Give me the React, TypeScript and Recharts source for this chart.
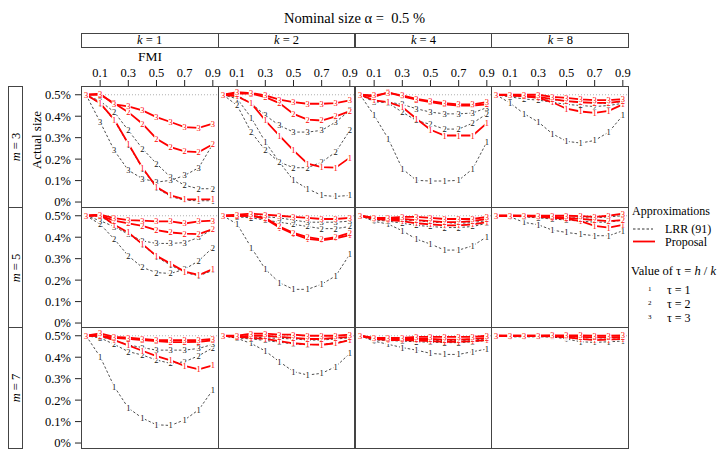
import React from 'react';
import { LineChart, Line, XAxis, YAxis, ReferenceLine } from 'recharts';

const FONT = '"Liberation Serif", Tinos, "Times New Roman", serif';

const fmi = [0, 0.1, 0.2, 0.3, 0.4, 0.5, 0.6, 0.7, 0.8, 0.9];
const kValues = [1, 2, 4, 8];
const mValues = [3, 5, 7];
const taus = [1, 2, 3];
const xTicks = [0.1, 0.3, 0.5, 0.7, 0.9];
const yTicks = [0, 0.1, 0.2, 0.3, 0.4, 0.5];

// Actual size (%) by FMI, rows = tau 1, 2, 3
const lrr_m3_k1 = [
  [0.5, 0.458, 0.38, 0.268, 0.156, 0.066, 0.026, 0.008, 0.006, 0.006],
  [0.5, 0.47, 0.42, 0.334, 0.249, 0.179, 0.116, 0.078, 0.062, 0.062],
  [0.5, 0.373, 0.241, 0.148, 0.109, 0.093, 0.101, 0.124, 0.16, 0.27],
];
const prop_m3_k1 = [
  [0.5, 0.461, 0.384, 0.272, 0.16, 0.07, 0.031, 0.012, 0.012, 0.012],
  [0.5, 0.5, 0.46, 0.419, 0.365, 0.295, 0.256, 0.236, 0.233, 0.269],
  [0.5, 0.505, 0.455, 0.446, 0.427, 0.396, 0.373, 0.349, 0.346, 0.365],
];
const lrr_m3_k2 = [
  [0.5, 0.481, 0.393, 0.28, 0.186, 0.101, 0.062, 0.031, 0.026, 0.031],
  [0.5, 0.45, 0.326, 0.241, 0.186, 0.16, 0.16, 0.186, 0.233, 0.334],
  [0.5, 0.497, 0.46, 0.404, 0.357, 0.326, 0.326, 0.334, 0.373, 0.427],
];
const prop_m3_k2 = [
  [0.5, 0.492, 0.461, 0.38, 0.31, 0.241, 0.179, 0.163, 0.16, 0.207],
  [0.5, 0.505, 0.505, 0.489, 0.461, 0.411, 0.384, 0.38, 0.399, 0.424],
  [0.5, 0.512, 0.508, 0.497, 0.477, 0.466, 0.458, 0.458, 0.461, 0.474],
];
const lrr_m3_k4 = [
  [0.5, 0.404, 0.295, 0.155, 0.101, 0.098, 0.098, 0.101, 0.155, 0.28],
  [0.5, 0.474, 0.461, 0.419, 0.38, 0.362, 0.34, 0.34, 0.368, 0.411],
  [0.5, 0.466, 0.466, 0.455, 0.435, 0.419, 0.411, 0.411, 0.415, 0.44],
];
const prop_m3_k4 = [
  [0.5, 0.474, 0.466, 0.443, 0.388, 0.337, 0.31, 0.31, 0.31, 0.368],
  [0.5, 0.49, 0.512, 0.492, 0.477, 0.466, 0.455, 0.45, 0.45, 0.455],
  [0.5, 0.497, 0.508, 0.497, 0.481, 0.47, 0.461, 0.455, 0.455, 0.466],
];
const lrr_m3_k8 = [
  [0.5, 0.461, 0.411, 0.373, 0.318, 0.283, 0.275, 0.287, 0.326, 0.404],
  [0.5, 0.49, 0.48, 0.475, 0.465, 0.455, 0.45, 0.445, 0.45, 0.46],
  [0.5, 0.495, 0.49, 0.485, 0.478, 0.47, 0.465, 0.462, 0.46, 0.47],
];
const prop_m3_k8 = [
  [0.5, 0.497, 0.492, 0.485, 0.465, 0.435, 0.422, 0.416, 0.425, 0.455],
  [0.5, 0.497, 0.495, 0.49, 0.48, 0.47, 0.465, 0.462, 0.462, 0.47],
  [0.5, 0.5, 0.5, 0.5, 0.49, 0.485, 0.478, 0.475, 0.475, 0.48],
];
const lrr_m5_k1 = [
  [0.5, 0.498, 0.458, 0.418, 0.366, 0.308, 0.27, 0.236, 0.22, 0.245],
  [0.5, 0.461, 0.391, 0.313, 0.259, 0.235, 0.231, 0.251, 0.29, 0.352],
  [0.5, 0.477, 0.449, 0.414, 0.383, 0.371, 0.371, 0.375, 0.399, 0.438],
];
const prop_m5_k1 = [
  [0.5, 0.505, 0.458, 0.422, 0.368, 0.313, 0.277, 0.24, 0.224, 0.251],
  [0.5, 0.5, 0.477, 0.464, 0.453, 0.433, 0.422, 0.417, 0.414, 0.438],
  [0.5, 0.505, 0.489, 0.48, 0.477, 0.474, 0.474, 0.464, 0.474, 0.477],
];
const lrr_m5_k2 = [
  [0.5, 0.461, 0.352, 0.251, 0.188, 0.157, 0.157, 0.181, 0.22, 0.321],
  [0.5, 0.495, 0.49, 0.48, 0.47, 0.46, 0.45, 0.44, 0.44, 0.45],
  [0.5, 0.5, 0.5, 0.495, 0.49, 0.48, 0.47, 0.47, 0.47, 0.475],
];
const prop_m5_k2 = [
  [0.5, 0.5, 0.5, 0.485, 0.445, 0.415, 0.392, 0.385, 0.395, 0.41],
  [0.5, 0.5, 0.5, 0.49, 0.45, 0.42, 0.4, 0.39, 0.4, 0.42],
  [0.5, 0.505, 0.51, 0.505, 0.5, 0.495, 0.49, 0.485, 0.485, 0.49],
];
const lrr_m5_k4 = [
  [0.5, 0.474, 0.461, 0.43, 0.391, 0.368, 0.34, 0.34, 0.36, 0.402],
  [0.5, 0.48, 0.475, 0.465, 0.455, 0.45, 0.445, 0.445, 0.45, 0.465],
  [0.5, 0.485, 0.485, 0.48, 0.478, 0.47, 0.468, 0.465, 0.468, 0.478],
];
const prop_m5_k4 = [
  [0.5, 0.485, 0.48, 0.475, 0.465, 0.46, 0.455, 0.455, 0.46, 0.47],
  [0.5, 0.49, 0.485, 0.485, 0.48, 0.475, 0.47, 0.47, 0.475, 0.485],
  [0.5, 0.49, 0.49, 0.495, 0.495, 0.49, 0.485, 0.485, 0.485, 0.495],
];
const lrr_m5_k8 = [
  [0.5, 0.495, 0.469, 0.458, 0.433, 0.422, 0.414, 0.407, 0.407, 0.43],
  [0.5, 0.498, 0.495, 0.49, 0.485, 0.48, 0.475, 0.47, 0.47, 0.48],
  [0.5, 0.5, 0.5, 0.498, 0.495, 0.49, 0.49, 0.49, 0.495, 0.5],
];
const prop_m5_k8 = [
  [0.5, 0.5, 0.498, 0.495, 0.49, 0.485, 0.475, 0.453, 0.445, 0.458],
  [0.5, 0.5, 0.5, 0.498, 0.495, 0.49, 0.485, 0.48, 0.475, 0.48],
  [0.5, 0.5, 0.5, 0.5, 0.5, 0.5, 0.498, 0.495, 0.5, 0.51],
];
const lrr_m7_k1 = [
  [0.5, 0.402, 0.263, 0.163, 0.116, 0.085, 0.082, 0.108, 0.155, 0.248],
  [0.5, 0.49, 0.46, 0.426, 0.41, 0.387, 0.371, 0.379, 0.407, 0.444],
  [0.5, 0.495, 0.48, 0.457, 0.445, 0.433, 0.433, 0.433, 0.441, 0.46],
];
const prop_m7_k1 = [
  [0.5, 0.5, 0.48, 0.455, 0.43, 0.405, 0.385, 0.36, 0.343, 0.362],
  [0.5, 0.5, 0.49, 0.485, 0.48, 0.475, 0.47, 0.47, 0.472, 0.478],
  [0.5, 0.511, 0.495, 0.491, 0.485, 0.48, 0.48, 0.48, 0.48, 0.485],
];
const lrr_m7_k2 = [
  [0.5, 0.488, 0.464, 0.429, 0.379, 0.333, 0.317, 0.325, 0.356, 0.418],
  [0.5, 0.49, 0.485, 0.478, 0.47, 0.462, 0.458, 0.46, 0.468, 0.48],
  [0.5, 0.495, 0.495, 0.49, 0.488, 0.485, 0.48, 0.48, 0.485, 0.49],
];
const prop_m7_k2 = [
  [0.5, 0.495, 0.49, 0.485, 0.475, 0.465, 0.46, 0.458, 0.465, 0.48],
  [0.5, 0.495, 0.5, 0.5, 0.495, 0.49, 0.485, 0.485, 0.49, 0.495],
  [0.5, 0.5, 0.51, 0.51, 0.505, 0.505, 0.5, 0.5, 0.5, 0.505],
];
const lrr_m7_k4 = [
  [0.5, 0.475, 0.46, 0.445, 0.433, 0.418, 0.413, 0.413, 0.426, 0.438],
  [0.5, 0.48, 0.478, 0.475, 0.472, 0.47, 0.468, 0.468, 0.472, 0.478],
  [0.5, 0.485, 0.482, 0.482, 0.48, 0.478, 0.478, 0.478, 0.48, 0.485],
];
const prop_m7_k4 = [
  [0.5, 0.485, 0.48, 0.48, 0.478, 0.475, 0.472, 0.472, 0.475, 0.48],
  [0.5, 0.488, 0.485, 0.485, 0.485, 0.485, 0.482, 0.482, 0.485, 0.49],
  [0.5, 0.49, 0.49, 0.49, 0.495, 0.495, 0.495, 0.495, 0.495, 0.5],
];
const lrr_m7_k8 = [
  [0.5, 0.495, 0.495, 0.495, 0.495, 0.485, 0.472, 0.469, 0.472, 0.475],
  [0.5, 0.498, 0.498, 0.497, 0.495, 0.49, 0.485, 0.482, 0.483, 0.485],
  [0.5, 0.5, 0.5, 0.5, 0.498, 0.495, 0.492, 0.49, 0.49, 0.492],
];
const prop_m7_k8 = [
  [0.5, 0.498, 0.498, 0.498, 0.497, 0.492, 0.485, 0.48, 0.482, 0.485],
  [0.5, 0.5, 0.5, 0.5, 0.5, 0.497, 0.495, 0.492, 0.492, 0.495],
  [0.5, 0.5, 0.5, 0.5, 0.502, 0.502, 0.502, 0.5, 0.5, 0.502],
];

const LRR = [
  [lrr_m3_k1, lrr_m3_k2, lrr_m3_k4, lrr_m3_k8],
  [lrr_m5_k1, lrr_m5_k2, lrr_m5_k4, lrr_m5_k8],
  [lrr_m7_k1, lrr_m7_k2, lrr_m7_k4, lrr_m7_k8],
];
const PROP = [
  [prop_m3_k1, prop_m3_k2, prop_m3_k4, prop_m3_k8],
  [prop_m5_k1, prop_m5_k2, prop_m5_k4, prop_m5_k8],
  [prop_m7_k1, prop_m7_k2, prop_m7_k4, prop_m7_k8],
];

const PX0 = 80.7;
const PW = 136.9;
const PY0 = 86;
const PH = 120.5;
const X_DOMAIN: [number, number] = [-0.036, 0.936];
const Y_DOMAIN: [number, number] = [-0.0208, 0.5408];
const AXIS_H = 30;
const AXIS_W = 75;
const PAD = 12;
const BORDER = '#444';
const RED = '#FF0000';

const makeDot = (label: string, color: string, prefix: string) => (props: any) => {
  const { cx, cy, index } = props;
  if (cx == null || cy == null) return <g key={`${prefix}${index}`} />;
  return (
    <g key={`${prefix}${index}`}>
      <rect x={cx - 2.4} y={cy - 3.4} width={4.8} height={6.8} fill="#fff" />
      <text x={cx} y={cy + 3} textAnchor="middle" fontSize={8.5} fill={color} fontFamily={FONT}>
        {label}
      </text>
    </g>
  );
};

function Panel({ r, c }: { r: number; c: number }) {
  const lrr = LRR[r][c];
  const prop = PROP[r][c];
  const data = fmi.map((x, i) => ({
    x,
    l1: lrr[0][i], l2: lrr[1][i], l3: lrr[2][i],
    p1: prop[0][i], p2: prop[1][i], p3: prop[2][i],
  }));
  const top = r === 0;
  const left = c === 0;
  const w = PW + 2 * PAD + (left ? AXIS_W : 0);
  const h = PH + 2 * PAD + (top ? AXIS_H : 0);
  return (
    <div style={{ position: 'absolute', left: PX0 + c * PW - PAD - (left ? AXIS_W : 0), top: PY0 + r * PH - PAD - (top ? AXIS_H : 0) }}>
      <LineChart width={w} height={h} data={data} margin={{ top: PAD, right: PAD, bottom: PAD, left: PAD }}>
        <XAxis
          dataKey="x" type="number" domain={X_DOMAIN} ticks={xTicks} allowDataOverflow
          orientation="top" hide={!top} height={AXIS_H} axisLine={false}
          tickSize={6} tickMargin={3} interval={0}
          tickLine={{ stroke: '#222' }}
          tick={{ fill: '#000', fontSize: 12.5, fontFamily: FONT }}
        />
        <YAxis
          type="number" domain={Y_DOMAIN} ticks={yTicks} allowDataOverflow
          hide={!left} width={AXIS_W} axisLine={false}
          tickSize={6} tickMargin={4} interval={0}
          tickLine={{ stroke: '#222' }}
          tick={{ fill: '#000', fontSize: 12.5, fontFamily: FONT }}
          tickFormatter={(v: number) => `${v}%`}
        />
        <ReferenceLine y={0.5} stroke="#999" strokeDasharray="1 2" strokeWidth={0.8} />
        {taus.map((t) => (
          <Line
            key={`l${t}`} dataKey={`l${t}`} stroke="#000" strokeWidth={0.7} strokeDasharray="2.5 2"
            dot={makeDot(String(t), '#111', `l${t}-`)} activeDot={false} isAnimationActive={false}
          />
        ))}
        {taus.map((t) => (
          <Line
            key={`p${t}`} dataKey={`p${t}`} stroke={RED} strokeWidth={1.8}
            dot={makeDot(String(t), RED, `p${t}-`)} activeDot={false} isAnimationActive={false}
          />
        ))}
      </LineChart>
    </div>
  );
}

const txt: React.CSSProperties = { position: 'absolute', fontFamily: FONT, color: '#000', whiteSpace: 'nowrap', lineHeight: 1 };

export default function App() {
  const panels = [];
  for (let r = 0; r < 3; r++) for (let c = 0; c < 4; c++) panels.push(<Panel key={`${r}-${c}`} r={r} c={c} />);
  const borders = [];
  for (let r = 0; r < 3; r++)
    for (let c = 0; c < 4; c++)
      borders.push(
        <div key={`b${r}-${c}`} style={{ position: 'absolute', left: PX0 + c * PW, top: PY0 + r * PH, width: PW + 1, height: PH + 1, border: `1px solid ${BORDER}`, boxSizing: 'border-box', pointerEvents: 'none' }} />
      );
  return (
    <div style={{ position: 'absolute', left: 0, top: 0, width: 718, height: 457, background: '#fff', overflow: 'hidden' }}>
      <div style={{ ...txt, left: 0, width: 709, top: 11, fontSize: 14.5, textAlign: 'center' }}>
        Nominal size α =&nbsp; 0.5 %
      </div>
      {kValues.map((k, c) => (
        <div key={`ks${c}`} style={{ position: 'absolute', left: PX0 + c * PW, top: 32.7, width: PW + 1, height: 15, border: `1px solid ${BORDER}`, boxSizing: 'border-box', fontFamily: FONT, fontSize: 12.5, textAlign: 'center', lineHeight: '13px' }}>
          <i>k</i> = {k}
        </div>
      ))}
      <div style={{ ...txt, left: 130, width: 40, top: 50, fontSize: 13.5, textAlign: 'center' }}>FMI</div>
      {mValues.map((m, r) => (
        <div key={`ms${r}`} style={{ position: 'absolute', left: 8, top: PY0 + r * PH, width: 15, height: PH + 1, border: `1px solid ${BORDER}`, boxSizing: 'border-box' }}>
          <div style={{ ...txt, left: 7, top: PH / 2, fontSize: 12.5, transform: 'translate(-50%, -50%) rotate(-90deg)' }}>
            <i>m</i> = {m}
          </div>
        </div>
      ))}
      <div style={{ ...txt, left: 36, top: 140, fontSize: 13, transform: 'translate(-50%, -50%) rotate(-90deg)' }}>Actual size</div>
      {panels}
      {borders}
      <div style={{ ...txt, left: 632, top: 205, fontSize: 12 }}>Approximations</div>
      <svg style={{ position: 'absolute', left: 630, top: 220 }} width={30} height={30}>
        <line x1={3} y1={9} x2={23} y2={9} stroke="#000" strokeWidth={0.8} strokeDasharray="2.5 2" />
        <line x1={3} y1={21.5} x2={25} y2={21.5} stroke={RED} strokeWidth={1.8} />
      </svg>
      <div style={{ ...txt, left: 665, top: 223, fontSize: 12 }}>LRR (91)</div>
      <div style={{ ...txt, left: 665, top: 236, fontSize: 12 }}>Proposal</div>
      <div style={{ ...txt, left: 631, top: 265, fontSize: 12.5 }}>
        Value of τ = <i>h</i> / <i>k</i>
      </div>
      {taus.map((t, i) => (
        <React.Fragment key={`lt${t}`}>
          <div style={{ ...txt, left: 648, top: 286 + i * 14, fontSize: 7 }}>{t}</div>
          <div style={{ ...txt, left: 667, top: 284 + i * 14, fontSize: 12 }}>τ = {t}</div>
        </React.Fragment>
      ))}
    </div>
  );
}
